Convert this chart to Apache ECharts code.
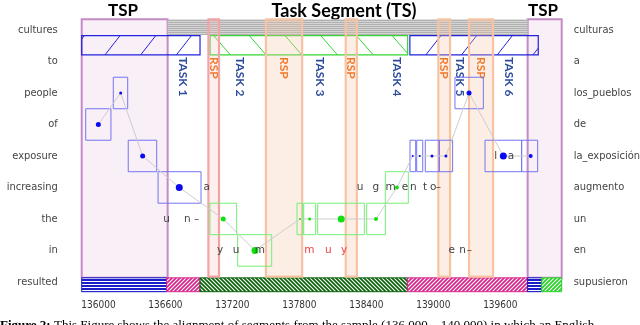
<!DOCTYPE html>
<html>
<head>
<meta charset="utf-8">
<script src="https://cdn.jsdelivr.net/npm/echarts@6/dist/echarts.min.js"></script>
<style>
html, body { margin: 0; padding: 0; background: #fff; }
#chart { width: 640px; height: 325px; }
</style>
</head>
<body>
<div id="chart"></div>
<script>
// word rows (English on the left, Spanish on the right), top to bottom
var leftWords = ['cultures', 'to', 'people', 'of', 'exposure', 'increasing', 'the', 'in', 'resulted'];
var rightWords = ['culturas', 'a', 'los_pueblos', 'de', 'la_exposición', 'augmento', 'un', 'en', 'supusieron'];
var rowTicks = [0, 1, 2, 3, 4, 5, 6, 7, 8];
var xTicks = [136000, 136200, 136400, 136600, 136800, 137000, 137200, 137400, 137600, 137800, 138000,
  138200, 138400, 138600, 138800, 139000, 139200, 139400, 139600, 139800, 140000];
var xTickLabels = [136000, 136600, 137200, 137800, 138400, 139000, 139600];

// segments along the time axis
var tspSpans = [[135850, 136620], [139845, 140150]];
var tsSpan = [136620, 139845];
var rspSpans = [[136985, 137080], [137500, 137825], [138215, 138315], [139045, 139150], [139320, 139535]];
var taskBarSpans = [[135850, 136910], [137000, 138770], [138790, 139940]];
var taskBarLang = ['src', 'tgt', 'src'];
var taskNames = ['TASK 1', 'TASK 2', 'TASK 3', 'TASK 4', 'TASK 5', 'TASK 6'];
var taskLabelX = [136757, 137268, 137985, 138672, 139239, 139681];
var segSpans = [[135850, 136610], [136610, 136910], [136910, 138768], [138768, 139845], [139845, 139971], [139971, 140150]];
var segKinds = ['tsp', 'rsp', 'ts', 'rsp', 'tsp', 'ts2'];

// alignment points, in path order
var alignX = [135999, 136199, 136396, 136724, 137118, 137402, 137806, 137892, 138175, 138486,
  138674, 138815, 138878, 138988, 139113, 139320, 139627, 139872];
var alignRow = [3, 2, 4, 5, 6, 7, 6, 6, 6, 6, 5, 4, 4, 4, 4, 2, 4, 4];
var alignWeight = [5, 3, 5, 7, 5, 7, 2, 3, 7, 4, 4, 2, 2, 3, 3, 5, 7, 4];
var alignLang = ['src', 'src', 'src', 'src', 'tgt', 'tgt', 'tgt', 'tgt', 'tgt', 'tgt',
  'tgt', 'src', 'src', 'src', 'src', 'src', 'src', 'src'];
var boxLo = [135886, 136133, 136267, 136534, 136999, 137247, 137779, 137839, 137964, 138403,
  138570, 138791, 138851, 138928, 139053, 139194, 139463, 139791];
var boxHi = [136112, 136262, 136522, 136919, 137238, 137552, 137830, 137946, 138382, 138570,
  138776, 138842, 138905, 139053, 139173, 139448, 139791, 139935];

// decoded characters
var grayChars = [['a', 136970, 5], ['u', 136611, 6], ['n', 136796, 6], ['–', 136880, 6],
  ['y', 137089, 7], ['u', 137232, 7], ['m', 137447, 7],
  ['u', 138343, 5], ['g', 138486, 5], ['m', 138618, 5], ['e', 138746, 5], ['n', 138821, 5],
  ['t', 138925, 5], ['o', 139000, 5], ['–', 139046, 5],
  ['e', 139164, 7], ['n', 139263, 7], ['–', 139322, 7], ['l', 139559, 4], ['a', 139696, 4]];
var redChars = [['m', 137889, 7], ['u', 138059, 7], ['y', 138200, 7]];

var LABEL_FONT = "'DejaVu Sans Condensed', 'DejaVu Sans', sans-serif";
var TITLE_FONT = "Lato, 'Open Sans', sans-serif";

function makePattern(w, h, bg, draw) {
  var c = document.createElement('canvas');
  c.width = w; c.height = h;
  var ctx = c.getContext('2d');
  ctx.fillStyle = bg;
  ctx.fillRect(0, 0, w, h);
  draw(ctx);
  return { image: c, repeat: 'repeat' };
}
function slash(ctx) {
  ctx.strokeStyle = '#fff'; ctx.lineWidth = 1.1;
  ctx.beginPath();
  ctx.moveTo(0, 4); ctx.lineTo(4, 0);
  ctx.moveTo(-1, 1); ctx.lineTo(1, -1);
  ctx.moveTo(3, 5); ctx.lineTo(5, 3);
  ctx.stroke();
}
function backslash(ctx) {
  ctx.strokeStyle = '#fff'; ctx.lineWidth = 1.1;
  ctx.beginPath();
  ctx.moveTo(0, 0); ctx.lineTo(4, 4);
  ctx.moveTo(-1, 3); ctx.lineTo(1, 5);
  ctx.moveTo(3, -1); ctx.lineTo(5, 1);
  ctx.stroke();
}
var patterns = {
  gray: makePattern(2, 2, '#d4d4d4', function (ctx) { ctx.fillStyle = '#b0b0b0'; ctx.fillRect(0, 0, 2, 1); }),
  tsp: makePattern(4, 3, '#1c1cc8', function (ctx) { ctx.fillStyle = '#fff'; ctx.fillRect(0, 2, 4, 1); }),
  rsp: makePattern(4, 4, '#d8258e', slash),
  ts: makePattern(4, 4, '#0b620b', backslash),
  ts2: makePattern(4, 4, '#26d226', slash)
};
var segStroke = { tsp: '#1c1cc8', rsp: '#d8258e', ts: '#0b620b', ts2: '#26d226' };

function rectOf(api, x0, x1, y0, y1) {
  var p0 = api.coord([x0, y0]);
  var p1 = api.coord([x1, y1]);
  return {
    x: Math.min(p0[0], p1[0]), y: Math.min(p0[1], p1[1]),
    width: Math.abs(p1[0] - p0[0]), height: Math.abs(p1[1] - p0[1])
  };
}

// sparse hatch lines inside a task bar
function hatch(r, step, dx, phase, dir, color) {
  var out = [];
  var xl = r.x, xr = r.x + r.width, yt = r.y, yb = r.y + r.height;
  for (var k = -2; k < 100; k++) {
    var a = xl + phase + k * step;
    if (a > xr) break;
    var y1 = dir === '/' ? yb : yt, y2 = dir === '/' ? yt : yb;
    var t0 = 0, t1 = 1;
    if (a < xl) t0 = (xl - a) / dx;
    if (a + dx > xr) t1 = (xr - a) / dx;
    if (t0 >= t1) continue;
    out.push({
      type: 'line',
      shape: { x1: a + dx * t0, y1: y1 + (y2 - y1) * t0, x2: a + dx * t1, y2: y1 + (y2 - y1) * t1 },
      style: { stroke: color, lineWidth: 1 }
    });
  }
  return out;
}

var chart = echarts.init(document.getElementById('chart'));

var option = {
  animation: false,
  grid: { left: 81.7, right: 78.3, top: 19.3, bottom: 33.3, outerBoundsMode: 'none' },
  xAxis: {
    type: 'value', min: 135850, max: 140150,
    splitLine: { show: false },
    axisLine: { show: false },
    axisTick: { show: true, customValues: xTicks, length: 5, lineStyle: { color: '#666' } },
    axisLabel: {
      customValues: xTickLabels, margin: 9,
      formatter: function (v) { return String(v); },
      fontFamily: LABEL_FONT, fontSize: 10, color: '#333'
    }
  },
  yAxis: [{
    type: 'value', inverse: true, min: -0.34, max: 8.31, position: 'left',
    splitLine: { show: false },
    axisLine: { show: false },
    axisTick: { show: true, inside: true, length: 3, customValues: rowTicks, lineStyle: { color: '#777' } },
    axisLabel: {
      customValues: rowTicks, margin: 24,
      formatter: function (v) { return leftWords[Math.round(v)]; },
      fontFamily: LABEL_FONT, fontSize: 11, color: '#444'
    }
  }, {
    type: 'value', inverse: true, min: -0.34, max: 8.31, position: 'right',
    splitLine: { show: false },
    axisLine: { show: false },
    axisTick: { show: true, inside: true, length: 3, customValues: rowTicks, lineStyle: { color: '#777' } },
    axisLabel: {
      customValues: rowTicks, margin: 12,
      formatter: function (v) { return rightWords[Math.round(v)]; },
      fontFamily: LABEL_FONT, fontSize: 11, color: '#444'
    }
  }],
  graphic: [
    { type: 'text', x: 123, y: 11, style: { text: 'TSP', font: 'bold 17px ' + TITLE_FONT, fill: '#000', align: 'center', verticalAlign: 'middle' } },
    { type: 'text', x: 344, y: 11, style: { text: 'Task Segment (TS)', font: 'bold 18px ' + TITLE_FONT, fill: '#000', align: 'center', verticalAlign: 'middle' } },
    { type: 'text', x: 543, y: 11, style: { text: 'TSP', font: 'bold 17px ' + TITLE_FONT, fill: '#000', align: 'center', verticalAlign: 'middle' } },
    { type: 'text', x: 0, y: 319, style: { text: 'Figure 2:', font: "bold 13px 'Liberation Serif', serif", fill: '#000', align: 'left', verticalAlign: 'top' } },
    { type: 'text', x: 54, y: 319, style: { text: 'This Figure shows the alignment of segments from the sample (136,000 – 140,000) in which an English', font: "13px 'Liberation Serif', serif", fill: '#000', align: 'left', verticalAlign: 'top' } }
  ],
  series: [
    {
      // text segment padding (TSP) regions
      type: 'custom', silent: true, z: 1, data: tspSpans,
      renderItem: function (p, api) {
        var s = tspSpans[p.dataIndex];
        return { type: 'rect', shape: rectOf(api, s[0], s[1], -0.34, 7.87),
          style: { fill: '#f9eff7', stroke: '#c48ac6', lineWidth: 2 } };
      }
    },
    {
      // task segment band on top
      type: 'custom', silent: true, z: 2, data: [tsSpan],
      renderItem: function (p, api) {
        return { type: 'rect', shape: rectOf(api, tsSpan[0], tsSpan[1], -0.34, 0.16),
          style: { fill: patterns.gray } };
      }
    },
    {
      // hatched segment bar at the bottom
      type: 'custom', silent: true, z: 2, data: segSpans,
      renderItem: function (p, api) {
        var s = segSpans[p.dataIndex], k = segKinds[p.dataIndex];
        return { type: 'rect', shape: rectOf(api, s[0], s[1], 7.87, 8.31),
          style: { fill: patterns[k], stroke: segStroke[k], lineWidth: 1 } };
      }
    },
    {
      // task bars
      type: 'custom', silent: true, z: 3, data: taskBarSpans,
      renderItem: function (p, api) {
        var i = p.dataIndex, s = taskBarSpans[i];
        var r = rectOf(api, s[0], s[1], 0.18, 0.79);
        var src = taskBarLang[i] === 'src';
        var color = src ? '#2222e0' : '#33d633';
        var phase = [23.3, 3.6, 16][i];
        var kids = [{ type: 'rect', shape: r, style: { fill: 'none', stroke: color, lineWidth: 1.2 } }];
        kids = kids.concat(hatch(r, 35.7, src ? 15 : 16.7, phase, src ? '/' : '\\', color));
        return { type: 'group', children: kids };
      }
    },
    {
      // response (RSP) bands
      type: 'custom', silent: true, z: 4, data: rspSpans,
      renderItem: function (p, api) {
        var i = p.dataIndex, s = rspSpans[i];
        var r = rectOf(api, s[0], s[1], -0.34, 7.83);
        var first = i === 0;
        var c = api.coord([(s[0] + s[1]) / 2, 0.857]);
        return { type: 'group', children: [
          { type: 'rect', shape: r, style: {
            fill: first ? 'rgba(250,190,190,0.25)' : 'rgba(248,200,170,0.3)',
            stroke: first ? '#f3a3a3' : '#f7c3a3', lineWidth: 2.2 } },
          { type: 'text', x: c[0], y: c[1], rotation: -Math.PI / 2, style: {
            text: 'RSP', font: 'bold 12px ' + TITLE_FONT, fill: '#f07a2c', align: 'left', verticalAlign: 'middle' } }
        ] };
      }
    },
    {
      // task labels
      type: 'custom', silent: true, z: 5, data: taskLabelX,
      renderItem: function (p, api) {
        var c = api.coord([taskLabelX[p.dataIndex], 0.857]);
        return { type: 'text', x: c[0], y: c[1], rotation: -Math.PI / 2, style: {
          text: taskNames[p.dataIndex], font: 'bold 12px ' + TITLE_FONT, fill: '#2e4d9c',
          align: 'left', verticalAlign: 'middle' } };
      }
    },
    {
      // alignment boxes
      type: 'custom', silent: true, z: 6, data: alignX,
      renderItem: function (p, api) {
        var i = p.dataIndex;
        return { type: 'rect', shape: rectOf(api, boxLo[i], boxHi[i], alignRow[i] - 0.5, alignRow[i] + 0.5),
          style: { fill: 'none', stroke: alignLang[i] === 'src' ? '#7474f2' : '#74ee74', lineWidth: 1 } };
      }
    },
    {
      // path through the alignment points
      type: 'line', silent: true, z: 7, symbol: 'none',
      data: alignX.map(function (x, i) { return [x, alignRow[i]]; }),
      lineStyle: { color: '#cdcdcd', width: 1 }
    },
    {
      type: 'scatter', silent: true, z: 8,
      data: alignX.map(function (x, i) { return [x, alignRow[i], alignWeight[i]]; })
        .filter(function (d, i) { return alignLang[i] === 'src'; }),
      symbolSize: function (v) { return v[2]; },
      itemStyle: { color: '#0a0af0', opacity: 1 }
    },
    {
      type: 'scatter', silent: true, z: 8,
      data: alignX.map(function (x, i) { return [x, alignRow[i], alignWeight[i]]; })
        .filter(function (d, i) { return alignLang[i] === 'tgt'; }),
      symbolSize: function (v) { return v[2]; },
      itemStyle: { color: '#10e010', opacity: 1 }
    },
    {
      // decoded characters
      type: 'custom', silent: true, z: 9, data: grayChars.concat(redChars),
      renderItem: function (p, api) {
        var all = grayChars.concat(redChars);
        var ch = all[p.dataIndex];
        var c = api.coord([ch[1], ch[2]]);
        return { type: 'text', x: c[0], y: c[1], style: {
          text: ch[0], font: "10.5px 'DejaVu Sans', sans-serif",
          fill: p.dataIndex >= grayChars.length ? '#f04040' : '#444',
          align: 'center', verticalAlign: 'middle' } };
      }
    }
  ]
};

chart.setOption(option);
</script>
</body>
</html>
